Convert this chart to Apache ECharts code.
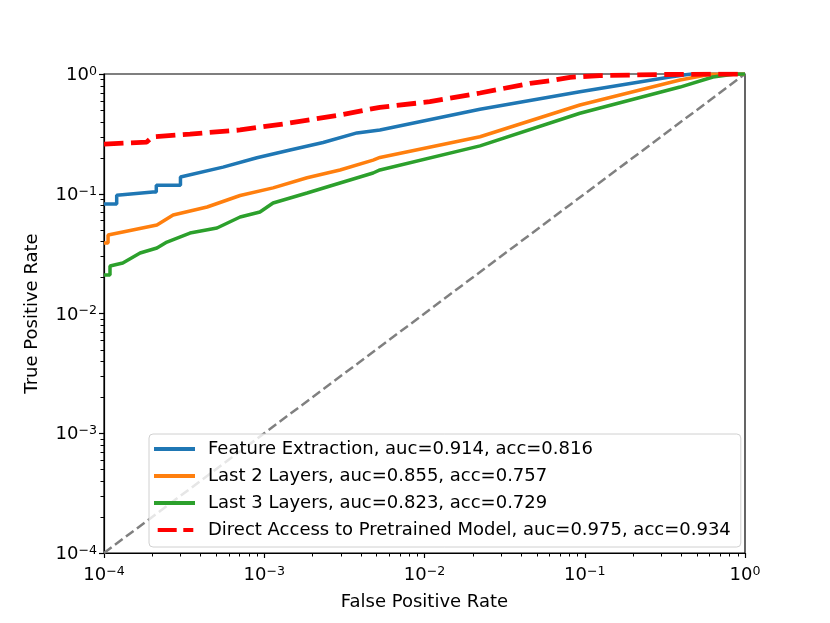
<!DOCTYPE html>
<html><head><meta charset="utf-8">
<script src="https://cdn.jsdelivr.net/npm/echarts@6/dist/echarts.min.js"></script>
<style>html,body{margin:0;padding:0;background:#fff}#c{width:830px;height:623px}</style>
</head><body><div id="c"></div>
<script>
const names = [
  'Feature Extraction, auc=0.914, acc=0.816',
  'Last 2 Layers, auc=0.855, acc=0.757',
  'Last 3 Layers, auc=0.823, acc=0.729',
  'Direct Access to Pretrained Model, auc=0.975, acc=0.934'
];
const colors = ['#1f77b4', '#ff7f0e', '#2ca02c', '#ff0000'];

const feFpr = [1e-4, 1.2e-4, 1.2e-4, 2.02e-4, 2.12e-4, 2.12e-4, 3.0e-4, 3.0e-4, 5.53e-4, 9.0e-4, 1.45e-3, 2.33e-3, 3.79e-3, 5.27e-3, 0.0222, 0.0933, 0.34, 0.46, 1];
const feTpr = [0.082, 0.082, 0.097, 0.1035, 0.1035, 0.118, 0.118, 0.138, 0.167, 0.200, 0.232, 0.268, 0.322, 0.341, 0.507, 0.711, 0.944, 1, 1];

const l2Fpr = [1e-4, 1.06e-4, 1.06e-4, 1.31e-4, 2.14e-4, 2.70e-4, 4.40e-4, 7.07e-4, 1.135e-3, 1.85e-3, 2.97e-3, 4.78e-3, 5.27e-3, 0.0222, 0.0933, 0.393, 0.62, 1];
const l2Tpr = [0.0388, 0.0388, 0.0453, 0.048, 0.0548, 0.0665, 0.0775, 0.0967, 0.112, 0.136, 0.158, 0.191, 0.201, 0.299, 0.551, 0.891, 1, 1];

const l3Fpr = [1e-4, 1.09e-4, 1.09e-4, 1.31e-4, 1.68e-4, 2.14e-4, 2.47e-4, 3.44e-4, 5.07e-4, 7.07e-4, 9.4e-4, 1.135e-3, 1.85e-3, 2.97e-3, 4.78e-3, 5.27e-3, 0.0222, 0.0933, 0.393, 0.631, 0.867, 1];
const l3Tpr = [0.021, 0.021, 0.0249, 0.0264, 0.032, 0.0352, 0.0395, 0.047, 0.0518, 0.064, 0.0704, 0.0837, 0.1014, 0.123, 0.149, 0.158, 0.251, 0.470, 0.778, 0.944, 1, 1];

const daFpr = [1e-4, 1.85e-4, 2.0e-4, 3.44e-4, 7.07e-4, 1.45e-3, 2.97e-3, 5.27e-3, 0.0108, 0.0222, 0.0455, 0.0615, 0.081, 0.124, 0.3, 1];
const daTpr = [0.260, 0.270, 0.298, 0.315, 0.341, 0.390, 0.455, 0.527, 0.587, 0.694, 0.836, 0.879, 0.939, 0.97, 0.99, 1];

const diagFpr = [1e-4, 1];
const diagTpr = [1e-4, 1];

const minorTicks = [];
for (let d = -4; d < 0; d++) for (let k = 2; k <= 9; k++) minorTicks.push(+(k * Math.pow(10, d)).toPrecision(3));

const FONT = 'DejaVu Sans';
const zip = (a, b) => a.map((v, i) => [v, b[i]]);

function expLabel(v) {
  const e = Math.round(Math.log10(v));
  const s = e < 0 ? '\u2212' + (-e) : String(e);
  return '{a|10}{b|' + s + '}';
}
const rich = {
  a: { fontFamily: FONT, fontSize: 18, color: '#000', lineHeight: 18, padding: [3, 0, 0, 0] },
  b: { fontFamily: FONT, fontSize: 12.6, color: '#000', lineHeight: 12.6, verticalAlign: 'top' }
};

const solidIcon = 'path://M0,0h41v4h-41z';
const dashIcon = 'path://M0,2h0.01v0.01h-0.01zM3.7,0h19v4h-19zM29.3,0h10v4h-10zM40.99,2h0.01v0.01h-0.01z';

const chart = echarts.init(document.getElementById('c'), null, { renderer: 'canvas' });

const lineSeries = [
  { fpr: feFpr, tpr: feTpr, name: names[0], color: colors[0], type: 'solid', w: 3.5 },
  { fpr: l2Fpr, tpr: l2Tpr, name: names[1], color: colors[1], type: 'solid', w: 3.5 },
  { fpr: l3Fpr, tpr: l3Tpr, name: names[2], color: colors[2], type: 'solid', w: 3.5 },
  { fpr: daFpr, tpr: daTpr, name: names[3], color: colors[3], type: [19.5, 7.5], w: 4.8 }
].map(s => ({
  type: 'line', name: s.name, data: zip(s.fpr, s.tpr), showSymbol: false, symbol: 'none',
  itemStyle: { color: s.color },
  lineStyle: { color: s.color, width: s.w, type: s.type, cap: 'butt' },
  silent: true, animation: false
}));

const option = {
  animation: false,
  grid: { left: 104, right: 85, top: 74, bottom: 70, show: true, borderColor: '#000', borderWidth: 1.2, backgroundColor: 'transparent' },
  legend: {
    orient: 'vertical', left: 149, top: 434,
    data: names.map((n, i) => ({ name: n, icon: i === 3 ? dashIcon : solidIcon })),
    itemWidth: 41, itemHeight: 4, itemGap: 6,
    padding: [4.5, 10, 6.5, 5],
    backgroundColor: 'rgba(255,255,255,0.8)', borderColor: '#d0d0d0', borderWidth: 1, borderRadius: 4,
    textStyle: { fontFamily: FONT, fontSize: 18, color: '#000', lineHeight: 21, padding: [0, 0, 0, 8] },
    selectedMode: false
  },
  xAxis: {
    type: 'log', logBase: 10, min: 1e-4, max: 1, splitNumber: 4, splitLine: { show: false },
    name: 'False Positive Rate', nameLocation: 'middle', nameGap: 40,
    nameTextStyle: { fontFamily: FONT, fontSize: 18, color: '#000' },
    axisLine: { lineStyle: { color: '#000', width: 1.2 } },
    axisTick: { show: true, length: 5, lineStyle: { color: '#000', width: 1.2 } },
    axisLabel: { formatter: expLabel, rich: rich, margin: 12, color: '#000' }
  },
  yAxis: {
    type: 'log', logBase: 10, min: 1e-4, max: 1, splitNumber: 4, splitLine: { show: false },
    name: 'True Positive Rate', nameLocation: 'middle', nameGap: 63,
    nameTextStyle: { fontFamily: FONT, fontSize: 18, color: '#000' },
    axisLine: { lineStyle: { color: '#000', width: 1.2 } },
    axisTick: { show: true, length: 5, lineStyle: { color: '#000', width: 1.2 } },
    axisLabel: { formatter: expLabel, rich: rich, margin: 7, color: '#000' }
  },
  series: [
    {
      type: 'line', name: 'diag', data: zip(diagFpr, diagTpr), showSymbol: false, symbol: 'none',
      lineStyle: { color: '#808080', width: 2.5, type: [9.5, 4.2], cap: 'butt' }, silent: true, z: 1
    },
    ...lineSeries
  ]
};
chart.setOption(option);

// minor ticks (2..9 x 10^k) placed through the axes' own log scales
const g = [];
const x0 = chart.convertToPixel({ xAxisIndex: 0 }, 1e-4);
const y0 = chart.convertToPixel({ yAxisIndex: 0 }, 1e-4);
minorTicks.forEach(v => {
  const px = Math.round(chart.convertToPixel({ xAxisIndex: 0 }, v)) + 0.5;
  const py = Math.round(chart.convertToPixel({ yAxisIndex: 0 }, v)) + 0.5;
  g.push({ type: 'line', shape: { x1: px, y1: y0, x2: px, y2: y0 + 3.5 }, style: { stroke: '#000', lineWidth: 1 } });
  g.push({ type: 'line', shape: { x1: x0, y1: py, x2: x0 - 3.5, y2: py }, style: { stroke: '#000', lineWidth: 1 } });
});
chart.setOption({ graphic: g });
</script></body></html>
